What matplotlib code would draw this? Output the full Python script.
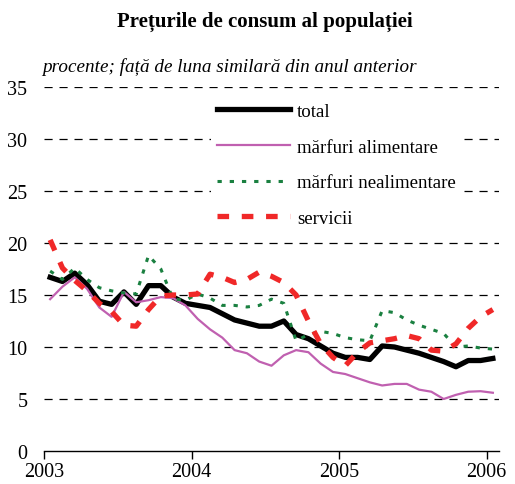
import numpy as np
import matplotlib
matplotlib.use('Agg')
import matplotlib.pyplot as plt

plt.rcParams['font.family'] = ['Liberation Serif', 'DejaVu Serif']

# monthly values, Jan 2003 .. Jan 2006
total = [16.7, 16.3, 17.1, 16.0, 14.4, 14.1, 15.3, 14.1, 15.9, 15.9, 14.8, 14.2,
         14.0, 13.8, 13.2, 12.6, 12.3, 12.0, 12.0, 12.5, 11.2, 10.8, 10.1, 9.4,
         9.0, 9.0, 8.8, 10.1, 10.0, 9.7, 9.4, 9.0, 8.6, 8.1, 8.7, 8.7, 8.9]
alimentare = [14.6, 15.8, 16.7, 15.6, 13.8, 12.9, 15.3, 14.3, 14.5, 14.8, 14.7, 14.0,
              12.7, 11.7, 10.9, 9.7, 9.4, 8.6, 8.2, 9.2, 9.7, 9.5, 8.4, 7.6,
              7.4, 7.0, 6.6, 6.3, 6.45, 6.45, 5.9, 5.7, 5.0, 5.4, 5.7, 5.75, 5.6]
nealimentare = [17.3, 16.5, 17.6, 16.5, 15.7, 15.4, 15.2, 15.1, 18.8, 17.5, 14.6, 14.5,
                15.1, 14.7, 14.0, 14.0, 13.85, 14.0, 14.6, 14.2, 10.6, 11.2, 11.5, 11.3,
                10.9, 10.7, 10.6, 13.5, 13.3, 12.6, 12.1, 11.7, 11.3, 10.0, 10.1, 9.9, 9.8]
servicii = [20.3, 17.6, 16.4, 15.4, 14.2, 13.4, 12.1, 12.0, 13.6, 14.9, 15.0, 15.0,
            15.1, 17.0, 16.7, 16.2, 16.5, 17.2, 16.8, 16.2, 15.0, 12.5, 10.3, 9.0,
            8.2, 9.5, 10.4, 10.6, 10.8, 11.1, 10.8, 9.7, 9.6, 10.3, 11.8, 12.9, 13.6]
years = ['2003', '2004', '2005', '2006']
y_ticks = [0, 5, 10, 15, 20, 25, 30, 35]

x = np.arange(len(total)) + 0.5

fig = plt.figure(figsize=(5.15, 4.85), dpi=100)
ax = fig.add_axes([44 / 515, 1 - 452 / 485, 455 / 515, 364 / 485])

for v in y_ticks[1:]:
    ax.axhline(v, color='black', lw=0.9, dashes=(6.5, 5.5), zorder=1)

ax.plot(x, total, color='black', lw=3.8, label='total', zorder=3)
ax.plot(x, alimentare, color='#C060B0', lw=1.6, label='mărfuri alimentare', zorder=4)
ax.plot(x, nealimentare, color='#1A8040', lw=2.2, dashes=(1.4, 2.6),
        label='mărfuri nealimentare', zorder=5)
ax.plot(x, servicii, color='#F02828', lw=3.8, dashes=(2.2, 2.4),
        label='servicii', zorder=6)

ax.set_xlim(0, len(total))
ax.set_ylim(0, 35)
ax.set_xticks([0, 12, 24, 36])
ax.set_xticklabels(years)
ax.set_yticks(y_ticks)
ax.tick_params(axis='x', direction='out', length=6, width=1, labelsize=14.5, pad=2)
ax.tick_params(axis='y', length=0, labelsize=14.5, pad=12)
for s in ['left', 'right', 'top']:
    ax.spines[s].set_visible(False)
ax.spines['bottom'].set_linewidth(1)

leg = ax.legend(loc='upper left', bbox_to_anchor=(211 / 515, 1 - 98 / 485),
                bbox_transform=fig.transFigure, frameon=True, fontsize=13.6,
                handlelength=3.9, handletextpad=0.35, labelspacing=0.98,
                borderpad=0.3, borderaxespad=0)
leg.get_frame().set_edgecolor('none')
leg.get_frame().set_facecolor('white')
leg.get_frame().set_alpha(1)
leg.set_zorder(10)

fig.text(265 / 515, 1 - 22 / 485, 'Prețurile de consum al populației',
         ha='center', va='center', fontsize=15, fontweight='bold')
fig.text(42 / 515, 1 - 67 / 485, 'procente; față de luna similară din anul anterior',
         ha='left', va='center', fontsize=13.8, style='italic')

fig.savefig('out.png', dpi=100)
